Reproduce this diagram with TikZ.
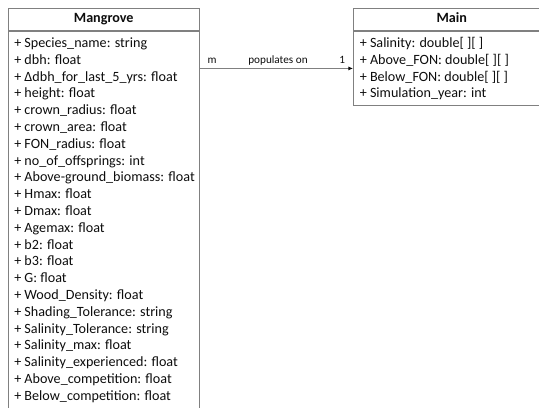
\documentclass[tikz,border=0pt]{standalone}
\usepackage{fontspec}
\setmainfont{Carlito}
\usetikzlibrary{positioning,arrows.meta}

\definecolor{umlline}{gray}{0.5}
\definecolor{umltext}{gray}{0.05}

\tikzset{
    classhead/.style = {draw = umlline, line width = 0.7pt, inner sep = 0pt,
        minimum height = 16.9pt, text height = 7.6pt, text depth = 2.2pt,
        font = \fontsize{10.6}{12}\selectfont\bfseries, text = umltext},
    classbody/.style = {draw = umlline, line width = 0.7pt, inner sep = 0pt},
    attr/.style = {anchor = base west, inner sep = 0pt,
        font = \fontsize{10.6}{12}\selectfont, text = umltext},
    assoc/.style = {draw = umlline, line width = 0.7pt,
        -{Latex[length = 3.4pt, width = 3pt, color = umltext]}},
    assoclabel/.style = {anchor = base, inner sep = 0pt, yshift = 3.5pt,
        font = \fontsize{8.4}{10}\selectfont, text = umltext}
}

\begin{document}
\begin{tikzpicture}[x = 0.75pt, y = -0.75pt]
    \useasboundingbox (0,0) rectangle (539,407);
    \clip (0,0) rectangle (539,407);

    % Mangrove class
    \node[classhead, minimum width = 143.6pt] (mangrove) at (103.75,19.25) {Mangrove};
    \node[classbody, minimum width = 143.6pt, minimum height = 300pt,
        below = 0pt of mangrove] (mangrovebody) {};
    \foreach \txt [count = \i] in {%
        {+ Species\_name: string}, {+ dbh: float}, {+ Δdbh\_for\_last\_5\_yrs: float},
        {+ height: float}, {+ crown\_radius: float}, {+ crown\_area: float},
        {+ FON\_radius: float}, {+ no\_of\_offsprings: int},
        {+ Above-ground\_biomass: float}, {+ Hmax: float}, {+ Dmax: float},
        {+ Agemax: float}, {+ b2: float}, {+ b3: float}, {+ G: float},
        {+ Wood\_Density: float}, {+ Shading\_Tolerance: string},
        {+ Salinity\_Tolerance: string}, {+ Salinity\_max: float},
        {+ Salinity\_experienced: float}, {+ Above\_competition: float},
        {+ Below\_competition: float}}
        \node[attr] (mangroveattr\i) at (14, {47.5 + 16.8*(\i-1)}) {\txt};

    % Main class
    \node[classhead, minimum width = 147.4pt] (main) at (451.75,19.25) {Main};
    \node[classbody, minimum width = 147.4pt, minimum height = 55.5pt,
        below = 0pt of main] (mainbody) {};
    \foreach \txt [count = \i] in {%
        {+ Salinity: double[ ][ ]}, {+ Above\_FON: double[ ][ ]},
        {+ Below\_FON: double[ ][ ]}, {+ Simulation\_year: int}}
        \node[attr] (mainattr\i) at (359.5, {47.5 + 16.8*(\i-1)}) {\txt};

    % association
    \draw[assoc] (mangrovebody.east |- mainbody.west) -- (mainbody.west)
        node[assoclabel, pos = 0.08] (multm) {m}
        node[assoclabel, pos = 0.51] (assocname) {populates on}
        node[assoclabel, pos = 0.93] (mult1) {1};
\end{tikzpicture}
\end{document}
